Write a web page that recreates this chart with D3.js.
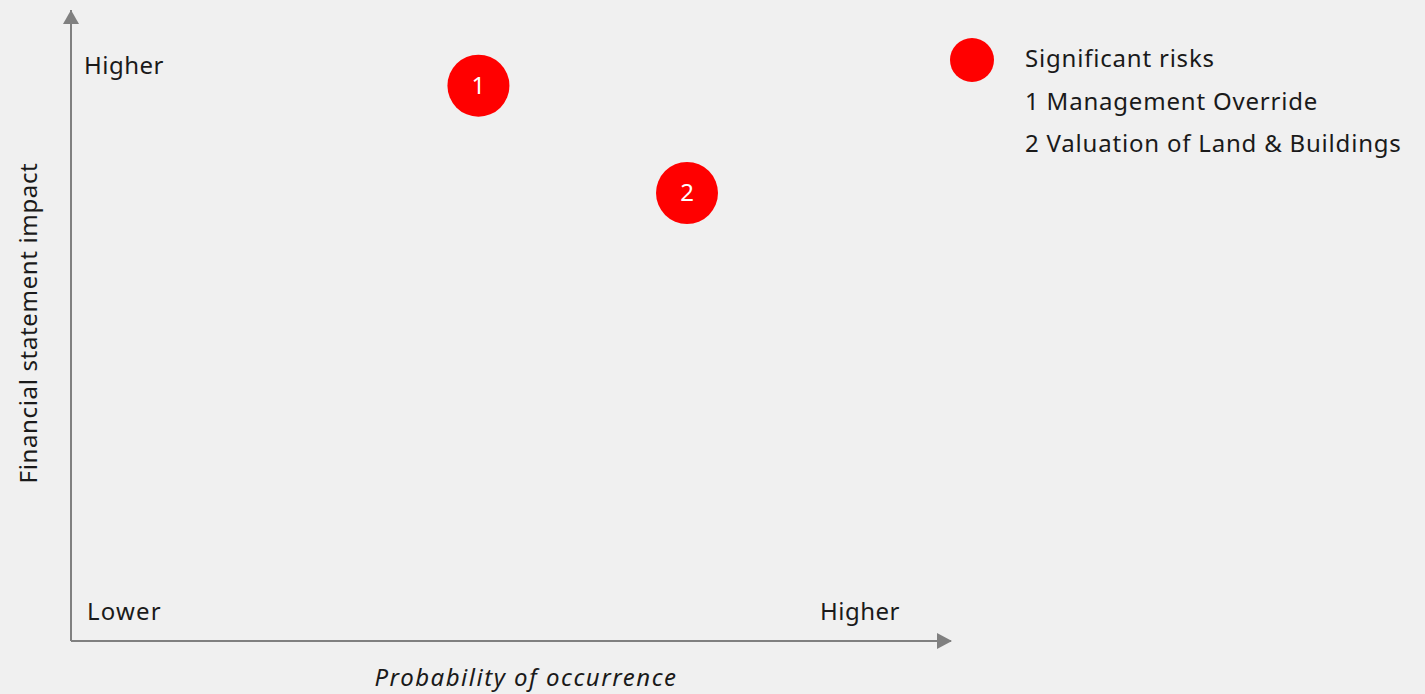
<!DOCTYPE html>
<html>
<head>
<meta charset="utf-8">
<script src="https://cdn.jsdelivr.net/npm/d3@7"></script>
<style>
  body { margin: 0; background: #f0f0f0; }
  text { font-family: "Noto Sans", "Open Sans", sans-serif; fill: #1a1a1a; letter-spacing: 0.8px; }
</style>
</head>
<body>
<div class="viz"></div>
<script>
// risk data: probability (x) and impact (y), 0-10 scale
var riskIds = ["1", "2"]
var riskNames = ["Management Override", "Valuation of Land & Buildings"]
var probability = [4.63, 7.0]
var impact = [8.8, 7.1]
var legendTitle = "Significant risks"

var width = 1425, height = 694

var svg = d3.select(".viz")
  .append("svg")
    .attr("width", width)
    .attr("height", height)

var x = d3.scaleLinear().domain([0, 10]).range([71, 951])
var y = d3.scaleLinear().domain([0, 10]).range([641, 10])

// axis lines
svg.append("path")
    .attr("d", "M" + x(0) + "," + y(0) + " L" + x(0) + "," + y(10))
    .attr("stroke", "#808080").attr("stroke-width", 2).attr("fill", "none")

svg.append("path")
    .attr("d", "M" + x(0) + "," + y(0) + " L" + x(10) + "," + y(0))
    .attr("stroke", "#808080").attr("stroke-width", 2).attr("fill", "none")

// arrowheads
svg.append("path")
    .attr("d", "M" + x(0) + "," + (y(10)) + " l-8,14 l16,0 Z")
    .attr("fill", "#808080")
svg.append("path")
    .attr("d", "M" + (x(10) + 1) + "," + y(0) + " l-15,-8 l0,16 Z")
    .attr("fill", "#808080")

// corner labels
svg.append("text").attr("x", 84).attr("y", 74).style("font-size", "24px").style("letter-spacing", "0.5px").text("Higher")
svg.append("text").attr("x", 87).attr("y", 620).style("font-size", "24px").style("letter-spacing", "1.2px").text("Lower")
svg.append("text").attr("x", 820).attr("y", 620).style("font-size", "24px").style("letter-spacing", "0.5px").text("Higher")

// axis titles
svg.append("text")
    .attr("x", 526).attr("y", 686)
    .attr("text-anchor", "middle")
    .style("font-size", "24px").style("font-style", "italic")
    .style("letter-spacing", "1.5px")
    .text("Probability of occurrence")

svg.append("text")
    .attr("transform", "translate(37,323) rotate(-90)")
    .attr("text-anchor", "middle")
    .style("font-size", "24px")
    .style("letter-spacing", "0.65px")
    .text("Financial statement impact")

// risk bubbles
var g = svg.selectAll("g.risk")
  .data(riskIds)
  .enter().append("g")
    .attr("class", "risk")
    .attr("transform", (d, i) => "translate(" + x(probability[i]) + "," + y(impact[i]) + ")")

g.append("circle").attr("r", 31).attr("fill", "#ff0000")
g.append("text")
    .attr("text-anchor", "middle").attr("dy", "0.35em")
    .style("font-size", "24px").style("fill", "#ffffff").style("letter-spacing", "0px")
    .text(d => d)

// legend
svg.append("circle").attr("cx", 972).attr("cy", 60).attr("r", 22).attr("fill", "#ff0000")
svg.append("text").attr("x", 1025).attr("y", 67).style("font-size", "24px").text(legendTitle)
svg.selectAll("text.leg")
  .data(riskIds)
  .enter().append("text")
    .attr("class", "leg")
    .attr("x", 1025)
    .attr("y", (d, i) => 110 + i * 42)
    .style("font-size", "24px")
    .text((d, i) => d + " " + riskNames[i])
</script>
</body>
</html>
